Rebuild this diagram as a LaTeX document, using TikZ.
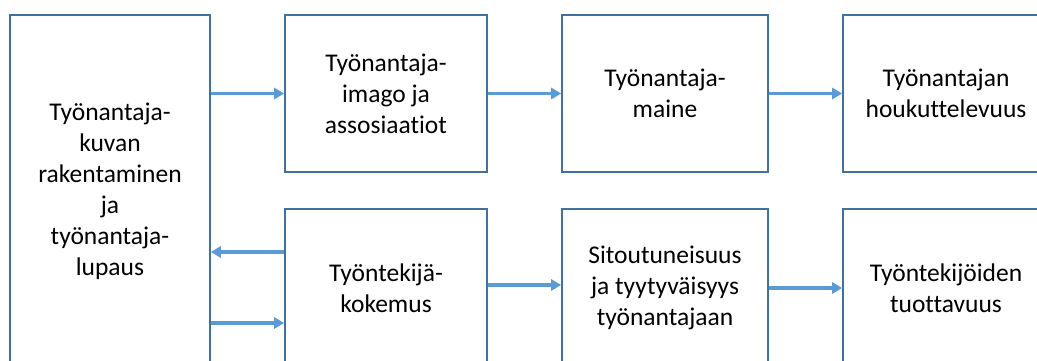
\documentclass[tikz,border=0pt]{standalone}
\usepackage{fontspec}
\setmainfont{Carlito}[Ligatures=NoCommon]
\usetikzlibrary{arrows.meta,calc}
\definecolor{boxline}{RGB}{65,113,156}
\definecolor{arrline}{RGB}{91,155,213}
\begin{document}
\begin{tikzpicture}[x=1pt,y=-1pt,
  box/.style={draw=boxline,line width=1.6pt,fill=white,align=center,inner sep=0pt,
    font=\fontsize{25.5pt}{31pt}\selectfont},
  arr/.style={draw=arrline,line width=3.6pt,-{Triangle[length=10pt,width=11pt]}}]
\useasboundingbox (0,0) rectangle (1037,361);
\clip (0,0) rectangle (1037,361);
\node[box,minimum width=200pt,minimum height=352pt] (L) at (110,191)
  {Työnantaja-\\kuvan\\rakentaminen\\ja\\työnantaja-\\lupaus};
\node[box,minimum width=202pt,minimum height=157pt] (A) at (386,93.5)
  {Työnantaja-\\imago ja\\assosiaatiot};
\node[box,minimum width=206pt,minimum height=157pt] (B) at (665,93.5)
  {Työnantaja-\\maine};
\node[box,minimum width=206pt,minimum height=157pt] (C) at (946,93.5)
  {Työnantajan\\houkuttelevuus};
\node[box,minimum width=202pt,minimum height=158pt] (D) at (386,288)
  {Työntekijä-\\kokemus};
\node[box,minimum width=206pt,minimum height=158pt] (E) at (665,288)
  {Sitoutuneisuus\\ja tyytyväisyys\\työnantajaan};
\node[box,minimum width=206pt,minimum height=158pt] (F) at (946,288)
  {Työntekijöiden\\tuottavuus};
\coordinate (D1) at ([yshift=36pt]D.west);
\coordinate (D2) at ([yshift=-35pt]D.west);
\coordinate (D3) at ([yshift=3pt]D.east);
\coordinate (E3) at ([yshift=3pt]E.west);
\draw[arr] (L.east |- A.west) -- (A.west);
\draw[arr] (A.east) -- (B.west);
\draw[arr] (B.east) -- (C.west);
\draw[arr] (D1) -- (L.east |- D1);
\draw[arr] (L.east |- D2) -- (D2);
\draw[arr] (D3) -- (E3);
\draw[arr] (E.east) -- (F.west);
\end{tikzpicture}
\end{document}
